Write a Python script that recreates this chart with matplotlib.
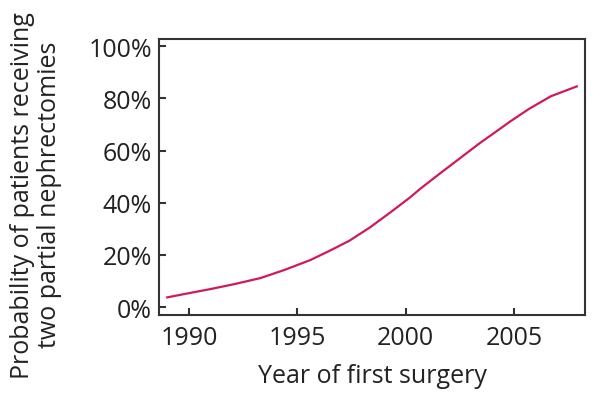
import numpy as np
import matplotlib
matplotlib.use("Agg")
import matplotlib.pyplot as plt
from matplotlib.ticker import FuncFormatter

# values (year, probability in %)
years = [1989.0, 1989.8, 1991.0, 1992.1, 1993.3, 1994.4, 1995.6, 1996.5,
         1997.4, 1998.35, 1999.3, 2000.2, 2000.7, 2001.6, 2002.5, 2003.4,
         2004.35, 2004.8, 2005.7, 2006.7, 2007.9]
prob = [3.7, 5.0, 6.9, 8.8, 11.1, 14.2, 18.0, 21.6,
        25.4, 30.5, 36.3, 42.0, 45.5, 51.3, 57.0, 62.7,
        68.3, 71.0, 76.0, 80.8, 84.6]

xticks = [1990, 1995, 2000, 2005]
yticks = [0, 20, 40, 60, 80, 100]

plt.rcParams['font.family'] = ['Open Sans', 'DejaVu Sans']

fig = plt.figure(figsize=(6, 4.06), dpi=100)
ax = fig.add_axes([0.265, 0.222, 0.71, 0.679])

ax.plot(years, prob, color='#d0185f', lw=1.6, solid_joinstyle='round')

ax.set_xlim(1988.62, 2008.28)
ax.set_ylim(-3.0, 102.7)
ax.set_xticks(xticks)
ax.set_yticks(yticks)
ax.yaxis.set_major_formatter(FuncFormatter(lambda v, p: '%d%%' % v))

for s in ax.spines.values():
    s.set_color('#333333')
    s.set_linewidth(1.5)
ax.tick_params(direction='in', length=5, width=1.5, color='#333333',
               labelsize=18, labelcolor='#222222', pad=5)
ax.tick_params(axis='x', pad=7)

ax.set_xlabel('Year of first surgery', fontsize=18, color='#222222', labelpad=10)
ax.set_ylabel('Probability of patients receiving\ntwo partial nephrectomies',
              fontsize=18, color='#222222', linespacing=1.1)
ax.yaxis.set_label_coords(-0.228, 0.438)

fig.savefig('out.png', dpi=100)
